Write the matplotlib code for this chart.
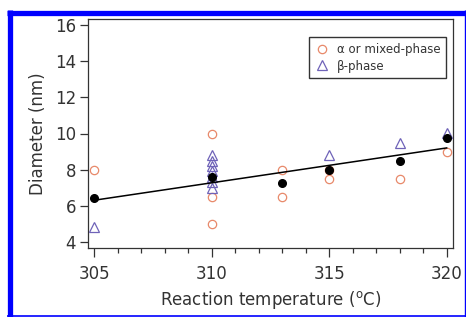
import matplotlib
matplotlib.use("Agg")
import matplotlib.pyplot as plt
from matplotlib.lines import Line2D
from matplotlib.ticker import MultipleLocator

# reaction temperature (C) vs particle diameter (nm)
alpha_x = [305, 310, 310, 310, 313, 313, 315, 315, 318, 320]
alpha_y = [8.0, 10.0, 6.5, 5.0, 8.0, 6.5, 8.0, 7.5, 7.5, 9.0]

beta_x = [305, 310, 310, 310, 310, 310, 310, 310, 315, 318, 320]
beta_y = [4.8, 8.8, 8.5, 8.2, 7.9, 7.6, 7.3, 7.0, 8.8, 9.5, 10.05]

mean_x = [305, 310, 313, 315, 318, 320]
mean_y = [6.4, 7.6, 7.25, 8.0, 8.5, 9.75]

fit_x = [305, 320]
fit_y = [6.3, 9.2]

x_ticks = [305, 310, 315, 320]
y_ticks = [4, 6, 8, 10, 12, 14, 16]

W, H = 466, 317
fig = plt.figure(figsize=(W / 100, H / 100), dpi=100)
ax = fig.add_axes([88 / W, 1 - 248 / H, (453 - 88) / W, (248 - 19) / H])

orange = "#e8896a"
purple = "#6f63b8"
grey = "#333333"

ax.plot(alpha_x, alpha_y, "o", ms=6, mfc="none", mec=orange, mew=0.9,
        label="\u03b1 or mixed-phase", zorder=3)
ax.plot(beta_x, beta_y, "^", ms=6.5, mfc="none", mec=purple, mew=0.9,
        label="\u03b2-phase", zorder=3)
ax.plot(mean_x, mean_y, "o", ms=5.5, color="black", zorder=4)
ax.plot(fit_x, fit_y, "-", color="black", lw=1.1, zorder=5)

ax.set_xlim(304.73, 320.27)
ax.set_ylim(3.65, 16.35)
ax.set_xticks(x_ticks)
ax.set_yticks(y_ticks)
ax.xaxis.set_minor_locator(MultipleLocator(1))

ax.tick_params(axis="both", which="major", direction="out", colors=grey,
               labelsize=12, width=0.9)
ax.tick_params(axis="x", which="major", length=6.5, pad=6)
ax.tick_params(axis="x", which="minor", length=3.5, width=0.9, color=grey)
ax.tick_params(axis="y", which="major", length=5.5, pad=3)
for s in ax.spines.values():
    s.set_color(grey)
    s.set_linewidth(0.9)

ax.set_xlabel(r"Reaction temperature ($^{\mathrm{o}}$C)", fontsize=12, color=grey, labelpad=4)
ax.set_ylabel("Diameter (nm)", fontsize=12, color=grey, labelpad=6)

leg = ax.legend(loc="upper right", bbox_to_anchor=(0.981, 0.921), fontsize=8.5,
                frameon=True, fancybox=False, edgecolor="black", handletextpad=0.6,
                handlelength=1.2, borderpad=0.5, labelspacing=0.3, borderaxespad=0)
leg.get_frame().set_linewidth(1.0)
for t in leg.get_texts():
    t.set_color(grey)

# blue frame around the picture
blue = "#0000ff"
fig.add_artist(Line2D([9.7 / W, 9.7 / W], [0, 1 - 10 / H], transform=fig.transFigure,
                      color=blue, lw=3.8, solid_capstyle="butt"))
fig.add_artist(Line2D([7.3 / W, 1], [1 - 12.6 / H, 1 - 12.6 / H], transform=fig.transFigure,
                      color=blue, lw=3.8, solid_capstyle="butt"))
fig.add_artist(Line2D([7.3 / W, 1], [1 / H, 1 / H], transform=fig.transFigure,
                      color=blue, lw=1.2, solid_capstyle="butt"))
fig.add_artist(Line2D([465.3 / W, 465.3 / W], [0, 1 - 10 / H], transform=fig.transFigure,
                      color=blue, lw=1.0, solid_capstyle="butt"))

fig.savefig("out.png", dpi=100)
